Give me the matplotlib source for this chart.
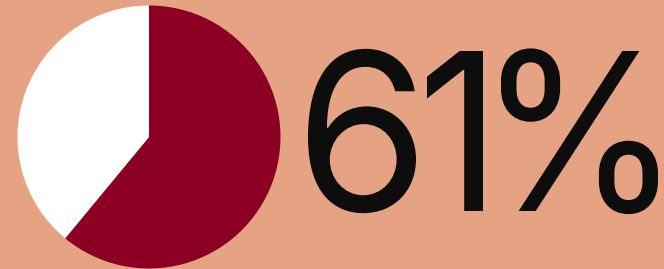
import matplotlib
matplotlib.use("Agg")
import matplotlib.pyplot as plt
from matplotlib.patheffects import AbstractPathEffect
from matplotlib.transforms import Affine2D
from matplotlib.textpath import TextPath
from matplotlib.font_manager import FontProperties

# data
labels = ["Yes", "No"]
shares = [61, 39]
colors = ["#8C0024", "#FFFFFF"]
big_label = "61%"

bg = "#E5A384"
W, H = 664, 269
font = FontProperties(family="Inter")


# stretch a glyph vertically about its baseline (reference face is narrower than Inter)
class Stretch(AbstractPathEffect):
    def __init__(self, sy):
        super().__init__()
        self.sy = sy

    def draw_path(self, renderer, gc, tpath, affine, rgbFace=None):
        renderer.draw_path(gc, tpath, Affine2D().scale(1, self.sy) + affine, rgbFace)


fig = plt.figure(figsize=(W / 100, H / 100), dpi=100, facecolor=bg)

# pie, centre ~ (149, 137) px from top-left, radius ~131 px
cx, cy, r = 149, 137, 131.5
ax = fig.add_axes([(cx - r) / W, (H - cy - r) / H, 2 * r / W, 2 * r / H])
ax.pie(shares, colors=colors, startangle=90, counterclock=False,
       radius=1, wedgeprops=dict(linewidth=0))
ax.set_xlim(-1, 1)
ax.set_ylim(-1, 1)
ax.set_aspect("equal")
ax.axis("off")

# big percentage text: glyph boxes (left, right) in px, baseline and cap height
boxes = [(308, 416), (427, 483), (501, 658)]
baseline = 211
cap = 160

ext1 = TextPath((0, 0), "1", size=1, prop=font).get_extents()
em_v = cap / ext1.y1               # em size (px) wanted vertically

for ch, (x0, x1) in zip(big_label, boxes):
    e = TextPath((0, 0), ch, size=1, prop=font).get_extents()
    em_h = (x1 - x0) / e.width     # em size (px) that gives the right width
    x = x0 - e.x0 * em_h
    t = fig.text(x / W, (H - baseline) / H, ch, fontproperties=font,
                 size=em_h * 72 / 100, color="#0D0D0D", ha="left", va="baseline")
    t.set_path_effects([Stretch(em_v / em_h)])

fig.savefig("out.png", dpi=100, facecolor=bg)
